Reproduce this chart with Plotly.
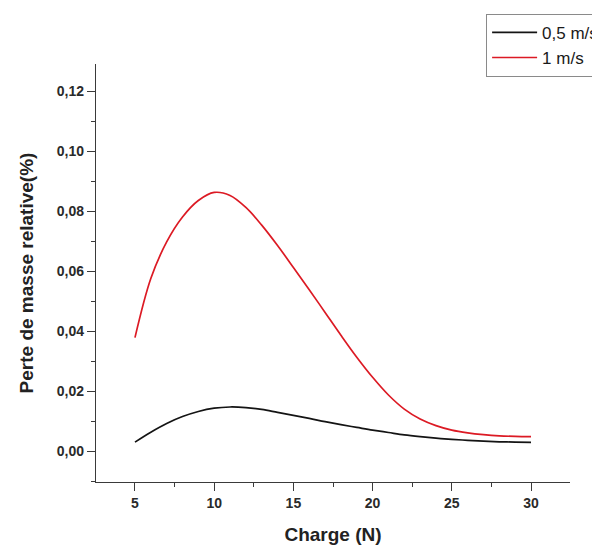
import plotly.graph_objects as go

charge = [5, 6, 7, 8, 9, 10, 11, 12, 13, 14, 15, 16, 17, 18, 19, 20,
          21, 22, 23, 24, 25, 26, 27, 28, 29, 30]
perte_05 = [0.0030, 0.0063, 0.0092, 0.0115, 0.0132, 0.0143, 0.0147, 0.0145,
            0.0139, 0.0129, 0.0119, 0.0109, 0.0098, 0.0088, 0.0079, 0.0070,
            0.0062, 0.0054, 0.0048, 0.0043, 0.0039, 0.0036, 0.0033, 0.0031,
            0.0030, 0.0029]
perte_1 = [0.0378, 0.0575, 0.0697, 0.0780, 0.0835, 0.0862, 0.0852, 0.0812,
           0.0753, 0.0685, 0.0612, 0.0538, 0.0462, 0.0386, 0.0313, 0.0246,
           0.0187, 0.0140, 0.0107, 0.0085, 0.0070, 0.0061, 0.0055, 0.0051,
           0.0049, 0.0048]
names = ["0,5 m/s", "1 m/s"]
x_ticks = [5, 10, 15, 20, 25, 30]
y_ticks = [0.00, 0.02, 0.04, 0.06, 0.08, 0.10, 0.12]

font_family = "Liberation Sans, Arial, sans-serif"
axis_color = "#3a3a3a"

fig = go.Figure()
fig.add_trace(go.Scatter(x=charge, y=perte_05, mode="lines", name=names[0],
                         line=dict(color="#141414", width=1.7, shape="spline")))
fig.add_trace(go.Scatter(x=charge, y=perte_1, mode="lines", name=names[1],
                         line=dict(color="#dc1a24", width=1.7, shape="spline")))

axis_common = dict(showline=True, linecolor=axis_color, linewidth=1.3,
                   ticks="outside", ticklen=8, tickwidth=1.3, tickcolor=axis_color,
                   showgrid=False, zeroline=False, mirror=False,
                   tickfont=dict(family=font_family, size=14, color="#2a2a2a",
                                 weight="bold"))

fig.update_layout(
    width=600, height=547,
    paper_bgcolor="white", plot_bgcolor="white",
    separators=",.",
    margin=dict(l=88, r=38, t=56, b=73, autoexpand=False),
    showlegend=True,
    legend=dict(x=0.823, y=1.12, xanchor="left", yanchor="top",
                bordercolor="#8a8a8a", borderwidth=1, bgcolor="white",
                font=dict(family=font_family, size=17, color="#1a1a1a"),
                tracegroupgap=0, itemwidth=45),
    xaxis=dict(range=[2.54, 32.46], tickvals=x_ticks,
               minor=dict(dtick=2.5, tick0=2.5, ticks="outside", ticklen=4,
                          tickcolor=axis_color, tickwidth=1.3),
               title=dict(text="Charge (N)", standoff=17,
                          font=dict(family=font_family, size=19, color="#222222",
                                    weight="bold")),
               **axis_common),
    yaxis=dict(range=[-0.0103, 0.129], tickvals=y_ticks, tickformat=".2f",
               minor=dict(dtick=0.01, tick0=0, ticks="outside", ticklen=4,
                          tickcolor=axis_color, tickwidth=1.3),
               title=dict(text="Perte de masse relative(%)", standoff=18,
                          font=dict(family=font_family, size=19, color="#222222",
                                    weight="bold")),
               **axis_common),
)

fig.write_html("out.html")
